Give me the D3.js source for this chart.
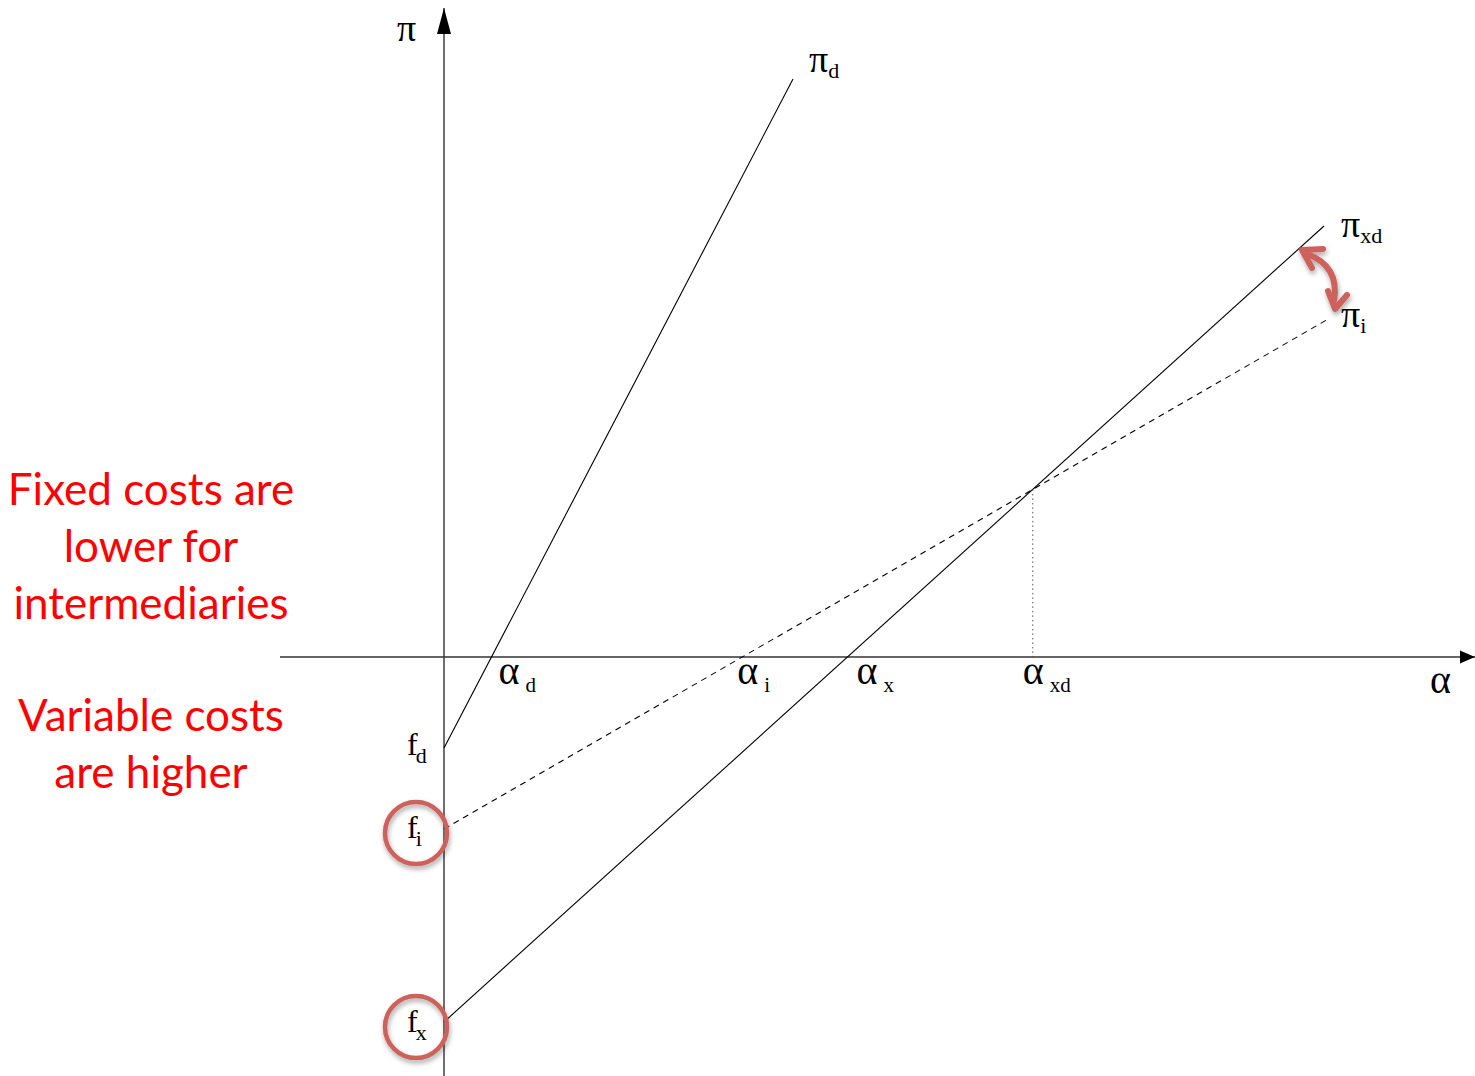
<!DOCTYPE html>
<html>
<head>
<meta charset="utf-8">
<script src="https://d3js.org/d3.v7.min.js"></script>
<style>
body { margin: 0; background: #fff; }
</style>
</head>
<body>
<script>
var width = 1475, height = 1076;

// profit lines, given as [alpha, pi] end points (alpha = 0 is the fixed cost intercept)
var lineNames = ["d", "xd", "i"];
var lineStart = [[0, -0.91], [0, -3.65], [0, -1.72]];
var lineEnd = [[3.49, 5.78], [8.80, 4.31], [8.86, 3.39]];
var lineDash = [null, null, "6,5"];

// cutoff labels on the alpha axis
var cutoffNames = ["d", "i", "x", "xd"];
var fixedNames = ["d", "i", "x"];
var circled = ["i", "x"];

var notes1 = ["Fixed costs are", "lower for", "intermediaries"];
var notes2 = ["Variable costs", "are higher"];

var x = d3.scaleLinear().domain([-1.64, 10.31]).range([280, 1475]);
var y = d3.scaleLinear().domain([-4.19, 6.49]).range([1076, 8]);

var svg = d3.select('body').append('svg').attr('width', width).attr('height', height)
  .style('font-family', '"Liberation Serif", "Times New Roman", serif');

var defs = svg.append('defs');
var f = defs.append('filter').attr('id', 'sh').attr('x', '-30%').attr('y', '-30%').attr('width', '160%').attr('height', '160%');
f.append('feDropShadow').attr('dx', 1).attr('dy', 3).attr('stdDeviation', 2.5).attr('flood-color', '#000').attr('flood-opacity', 0.35);

var red = '#cd625b';

// axes
svg.append('line').attr('x1', x(-1.64)).attr('y1', y(0)).attr('x2', x(10.31)).attr('y2', y(0))
  .attr('stroke', '#333').attr('stroke-width', 1.4);
svg.append('path').attr('d', d3.line()([[x(10.31), y(0)], [x(10.31) - 15, y(0) - 6.5], [x(10.31) - 15, y(0) + 6.5]]) + 'Z')
  .attr('fill', '#000');
svg.append('line').attr('x1', x(0)).attr('y1', y(-4.19)).attr('x2', x(0)).attr('y2', y(6.49))
  .attr('stroke', '#333').attr('stroke-width', 1.4);
svg.append('path').attr('d', d3.line()([[x(0), y(6.49)], [x(0) - 7, y(6.49) + 26], [x(0) + 7, y(6.49) + 26]]) + 'Z')
  .attr('fill', '#000');

// profit lines
var segs = lineNames.map(function(n, i) { return {name: n, a: lineStart[i], b: lineEnd[i], dash: lineDash[i]}; });
svg.selectAll('line.prof').data(segs).join('line').attr('class', 'prof')
  .attr('x1', function(d) { return x(d.a[0]); }).attr('y1', function(d) { return y(d.a[1]); })
  .attr('x2', function(d) { return x(d.b[0]); }).attr('y2', function(d) { return y(d.b[1]); })
  .attr('stroke', '#000').attr('stroke-width', 1.1)
  .attr('stroke-dasharray', function(d) { return d.dash; });

// slope / zero crossing per line
function slope(d) { return (d.b[1] - d.a[1]) / (d.b[0] - d.a[0]); }
function zero(d) { return -d.a[1] / slope(d); }
var byName = {};
segs.forEach(function(d) { byName[d.name] = d; });
var cut = {d: zero(byName.d), i: zero(byName.i), x: zero(byName.xd)};
// crossing of pi_xd and pi_i
var sx = slope(byName.xd), si = slope(byName.i);
cut.xd = (byName.i.a[1] - byName.xd.a[1]) / (sx - si);
var piXd = byName.xd.a[1] + sx * cut.xd;

svg.append('line').attr('x1', x(cut.xd)).attr('y1', y(piXd)).attr('x2', x(cut.xd)).attr('y2', y(0))
  .attr('stroke', '#555').attr('stroke-width', 1).attr('stroke-dasharray', '1.5,3');

// axis labels
svg.append('text').attr('x', x(0) - 47).attr('y', 41).attr('font-size', 38).text('π');
svg.append('text').attr('x', x(9.92) - 6).attr('y', 693).attr('font-size', 40).text('α');

// cutoff labels
var cutOffset = {d: 7, i: -5, x: 9, xd: -10};
cutoffNames.forEach(function(n) {
  var t = svg.append('text').attr('x', x(cut[n]) + cutOffset[n]).attr('y', 684).attr('font-size', 40);
  t.append('tspan').text('α');
  t.append('tspan').attr('dx', 6).attr('dy', 8).attr('font-size', 21).text(n);
});

// line end labels
var endPos = {d: [809, 72], xd: [1341, 237], i: [1341, 327]};
lineNames.forEach(function(n) {
  var t = svg.append('text').attr('x', endPos[n][0]).attr('y', endPos[n][1]).attr('font-size', 38);
  t.append('tspan').text('π');
  t.append('tspan').attr('dy', 6).attr('font-size', 22).text(n);
});

// fixed cost labels with circles
var fixedY = {d: lineStart[0][1], i: lineStart[2][1], x: lineStart[1][1]};
var fixedShift = {d: 2, i: 4, x: 5};
fixedNames.forEach(function(n) {
  var cy = y(fixedY[n]) + fixedShift[n];
  if (circled.indexOf(n) >= 0) {
    svg.append('circle').attr('cx', x(0) - 28).attr('cy', cy).attr('r', 31)
      .attr('fill', 'none').attr('stroke', red).attr('stroke-width', 4.5).attr('filter', 'url(#sh)');
  }
  var t = svg.append('text').attr('x', x(0) - 37).attr('y', cy + 5).attr('font-size', 32);
  t.append('tspan').text('f');
  t.append('tspan').attr('dx', -2).attr('dy', 8).attr('font-size', 22).text(n);
});

// red double arrow between pi_xd and pi_i
var arr = svg.append('g').attr('filter', 'url(#sh)');
var p0 = [1302, 250], p1 = [1335, 309];
arr.append('path').attr('d', 'M' + (p0[0] + 5) + ',' + (p0[1] + 4) + 'Q1340,266 ' + (p1[0] - 1) + ',' + (p1[1] - 8))
  .attr('fill', 'none').attr('stroke', red).attr('stroke-width', 6).attr('stroke-linecap', 'round');
arr.append('path').attr('d', 'M' + (p0[0] + 21) + ',' + (p0[1] - 1) + 'L' + p0[0] + ',' + p0[1] + 'L' + (p0[0] + 10) + ',' + (p0[1] + 18))
  .attr('fill', 'none').attr('stroke', red).attr('stroke-width', 6).attr('stroke-linecap', 'round').attr('stroke-linejoin', 'round');
arr.append('path').attr('d', 'M' + (p1[0] - 7) + ',' + (p1[1] - 18) + 'L' + p1[0] + ',' + p1[1] + 'L' + (p1[0] + 12) + ',' + (p1[1] - 14))
  .attr('fill', 'none').attr('stroke', red).attr('stroke-width', 6).attr('stroke-linecap', 'round').attr('stroke-linejoin', 'round');

// red notes
var nt = svg.append('g').attr('font-family', 'Lato, "Open Sans", sans-serif').attr('font-size', 44)
  .attr('fill', '#ff0000').attr('text-anchor', 'middle');
nt.selectAll('text.n1').data(notes1).join('text').attr('class', 'n1')
  .attr('x', 151).attr('y', function(d, i) { return 505 + i * 57; }).text(function(d) { return d; });
nt.selectAll('text.n2').data(notes2).join('text').attr('class', 'n2')
  .attr('x', 151).attr('y', function(d, i) { return 731 + i * 57; }).text(function(d) { return d; });
</script>
</body>
</html>
